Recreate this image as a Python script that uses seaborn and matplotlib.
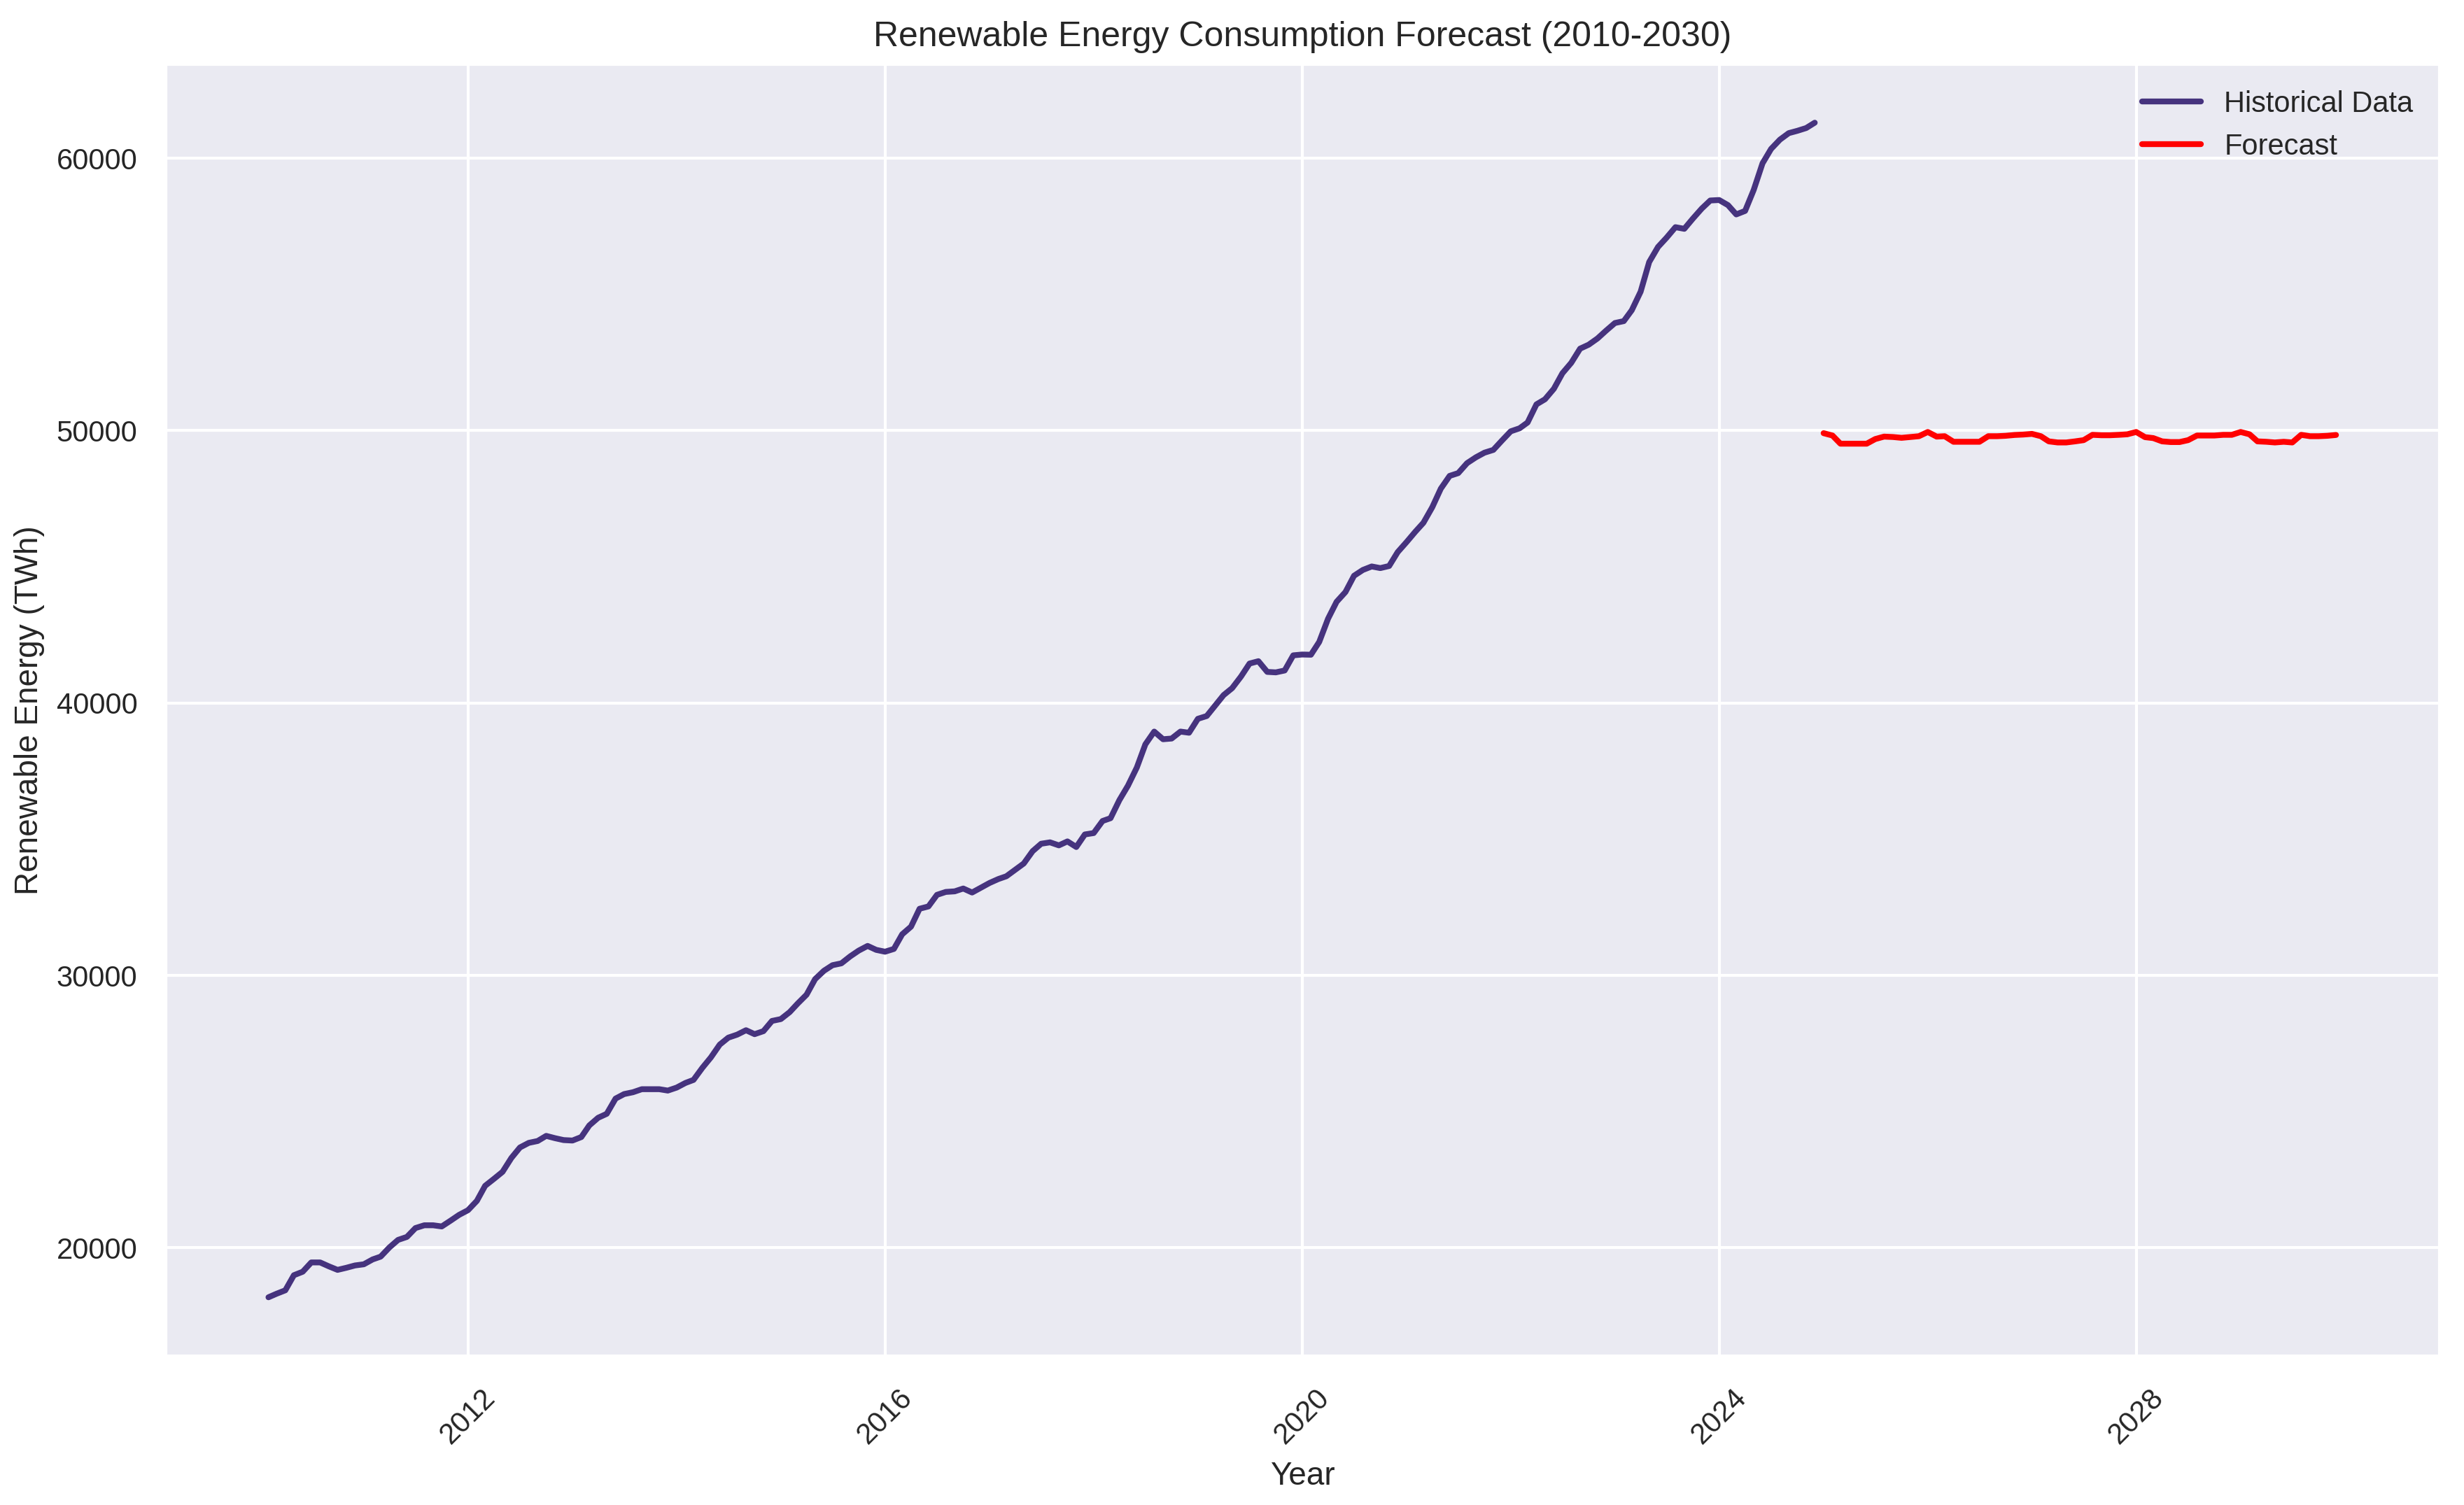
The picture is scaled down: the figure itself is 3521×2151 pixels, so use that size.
import pandas as pd
import matplotlib
matplotlib.use("Agg")
import matplotlib.pyplot as plt
import seaborn as sns

# --- dados (TWh, mensal) ---
HIST_START = "2010-01-31"
FC_START = "2024-12-31"

hist_values = [
    18184, 18312, 18440, 18994, 19122, 19463, 19463, 19318, 19190, 19267, 19352, 19395,
    19574, 19676, 20017, 20290, 20400, 20725, 20827, 20827, 20784, 20997, 21210, 21381,
    21722, 22276, 22532, 22788, 23299, 23683, 23853, 23921, 24109, 24024, 23955, 23938,
    24066, 24493, 24774, 24919, 25478, 25644, 25712, 25823, 25823, 25823, 25772, 25882,
    26053, 26164, 26607, 26991, 27460, 27715, 27826, 27988, 27843, 27954, 28329, 28397,
    28653, 28968, 29292, 29864, 30171, 30375, 30443, 30699, 30912, 31083, 30938, 30870,
    30972, 31509, 31790, 32447, 32532, 32958, 33065, 33086, 33190, 33043, 33214, 33393,
    33538, 33640, 33879, 34109, 34561, 34834, 34885, 34774, 34919, 34714, 35175, 35226,
    35669, 35772, 36436, 36965, 37630, 38483, 38951, 38670, 38696, 38951, 38909, 39420,
    39523, 39889, 40290, 40546, 40972, 41449, 41535, 41142, 41125, 41194, 41750, 41780,
    41773, 42242, 43095, 43717, 44075, 44672, 44885, 45013, 44953, 45030, 45541, 45908,
    46292, 46616, 47187, 47869, 48338, 48440, 48806, 49020, 49190, 49292, 49633, 49974,
    50085, 50298, 50963, 51151, 51535, 52106, 52489, 53009, 53154, 53384, 53670, 53950,
    54020, 54420, 55100, 56189, 56743, 57084, 57468, 57408, 57783, 58150, 58448, 58465,
    58278, 57937, 58065, 58832, 59812, 60341, 60682, 60921, 61006, 61108, 61304,
]

forecast_values = [
    49906, 49820, 49520, 49520, 49520, 49520, 49690, 49780, 49765, 49735, 49765, 49795,
    49950, 49780, 49795, 49590, 49590, 49590, 49590, 49795, 49795, 49810, 49840, 49855,
    49880, 49795, 49605, 49565, 49565, 49605, 49650, 49845, 49830, 49830, 49845, 49865,
    49950, 49760, 49725, 49605, 49580, 49580, 49650, 49820, 49820, 49820, 49845, 49845,
    49950, 49865, 49605, 49590, 49565, 49590, 49565, 49845, 49795, 49795, 49810, 49840,
]

HIST_COLOR = "#46337E"
FC_COLOR = "red"


def main():
    sns.set_theme(style="darkgrid")
    plt.rcParams["font.family"] = ["Liberation Sans", "DejaVu Sans"]
    plt.rcParams["xtick.labelsize"] = 10
    plt.rcParams["ytick.labelsize"] = 10

    hist = pd.DataFrame({
        "Date": pd.date_range(HIST_START, periods=len(hist_values), freq="ME"),
        "Value": hist_values,
    })
    fc = pd.DataFrame({
        "Date": pd.date_range(FC_START, periods=len(forecast_values), freq="ME"),
        "Value": forecast_values,
    })

    fig, ax = plt.subplots(figsize=(3521 / 300, 2151 / 300), dpi=300)
    sns.lineplot(data=hist, x="Date", y="Value", color=HIST_COLOR, linewidth=2,
                 label="Historical Data", ax=ax)
    sns.lineplot(data=fc, x="Date", y="Value", color=FC_COLOR, linewidth=2,
                 label="Forecast", ax=ax)

    ax.set_title("Renewable Energy Consumption Forecast (2010-2030)", fontsize=12)
    ax.set_xlabel("Year", fontsize=11)
    ax.set_ylabel("Renewable Energy (TWh)", fontsize=11)
    plt.setp(ax.get_xticklabels(), rotation=45)
    ax.legend(loc="upper right", fontsize=10, frameon=False)

    fig.subplots_adjust(left=0.067, right=0.990, top=0.9575, bottom=0.099)
    fig.savefig("out.png", dpi=300)
    plt.close(fig)


if __name__ == "__main__":
    main()
